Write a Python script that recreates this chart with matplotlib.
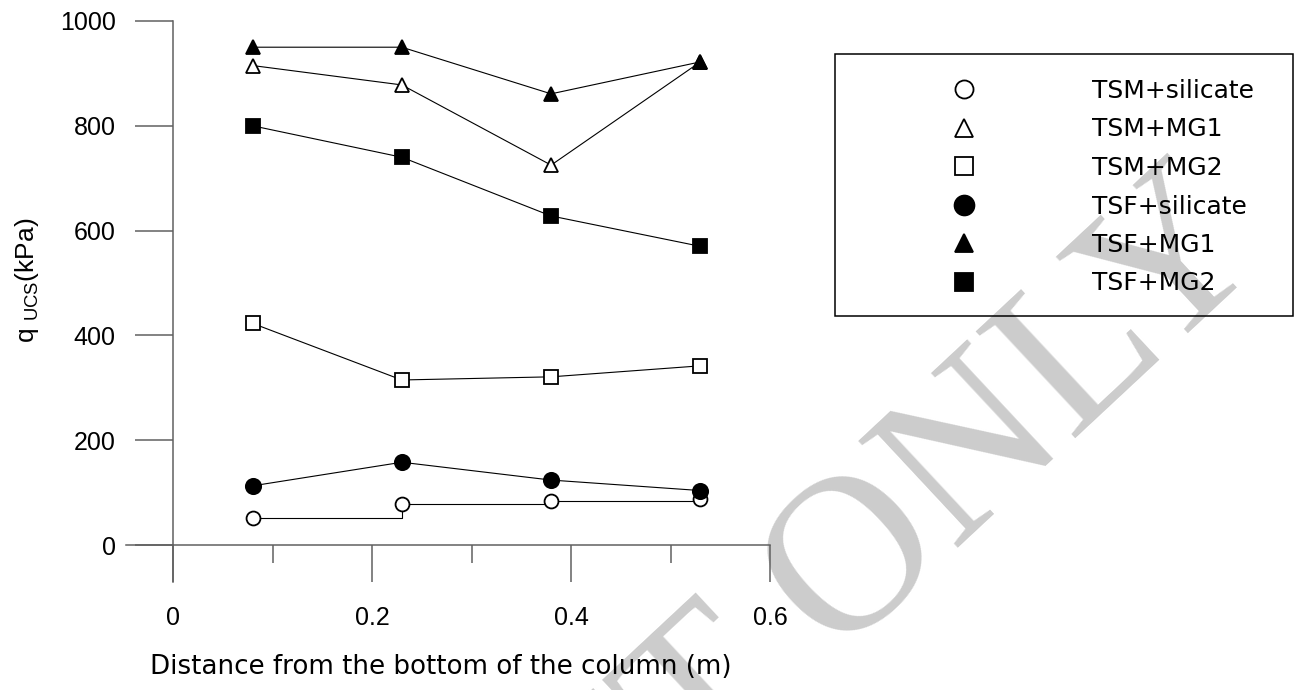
import numpy as np
import matplotlib.pyplot as plt
from matplotlib.lines import Line2D
from matplotlib.patches import Rectangle

plt.rcParams['font.family'] = ['Liberation Sans', 'DejaVu Sans']
plt.rcParams['mathtext.default'] = 'regular'

# distance from the bottom of the column (m)
distance = [0.08, 0.23, 0.38, 0.53]

# unconfined compressive strength q_UCS (kPa)
tsm_silicate = [52, 79, 85, 87]
tsm_mg1 = [915, 878, 725, 922]
tsm_mg2 = [423, 315, 321, 342]
tsf_silicate = [113, 158, 124, 104]
tsf_mg1 = [950, 950, 861, 922]
tsf_mg2 = [800, 740, 628, 570]

labels = ['TSM+silicate', 'TSM+MG1', 'TSM+MG2',
          'TSF+silicate', 'TSF+MG1', 'TSF+MG2']

W, H = 1301, 690
fig = plt.figure(figsize=(W / 100, H / 100), dpi=100)
ax = fig.add_axes([173 / W, 1 - 582 / H, (770 - 173) / W, (582 - 21) / H])
ax.patch.set_alpha(0)

grey = '#606060'
series = [
    (tsm_silicate, 'o', 'white', 10, 'steps-post'),
    (tsm_mg1, '^', 'white', 10, 'default'),
    (tsm_mg2, 's', 'white', 10, 'default'),
    (tsf_silicate, 'o', 'black', 11, 'default'),
    (tsf_mg1, '^', 'black', 10.5, 'default'),
    (tsf_mg2, 's', 'black', 10, 'default'),
]
handles = []
for (vals, mk, face, ms, ds), lab in zip(series, labels):
    ax.plot(distance, vals, color='black', lw=0.8, drawstyle=ds,
            marker=mk, ms=ms, mfc=face, mec='black', mew=1.3,
            clip_on=False, zorder=3)
    handles.append(Line2D([], [], ls='none', marker=mk, ms=ms, mfc=face,
                          mec='black', mew=1.3))

ax.set_xlim(0, 0.6)
ax.set_ylim(-70.5, 1000)
for s in ['top', 'right']:
    ax.spines[s].set_visible(False)
ax.spines['bottom'].set_position(('data', 0))
for s in ['left', 'bottom']:
    ax.spines[s].set_color(grey)
    ax.spines[s].set_linewidth(1.1)
ax.axhline(0, xmin=-(173 - 126) / 597, xmax=0, color=grey, lw=1.1,
           clip_on=False)

ax.set_xticks([0, 0.2, 0.4, 0.6])
ax.set_xticklabels(['0', '0.2', '0.4', '0.6'])
ax.set_xticks([0.1, 0.3, 0.5], minor=True)
ax.set_yticks(np.arange(0, 1001, 200))
ax.tick_params(axis='x', which='major', direction='out', length=26.6,
               width=1.1, color=grey, pad=17, labelsize=18)
ax.tick_params(axis='x', which='minor', direction='out', length=13,
               width=1.1, color=grey)
ax.tick_params(axis='y', direction='out', length=27.4, width=1.1,
               color=grey, pad=14, labelsize=18)

fig.text(150 / W, 1 - 667 / H, 'Distance from the bottom of the column (m)',
         ha='left', va='center', fontsize=18.8, family='DejaVu Sans')
fig.text(27 / W, 1 - 280 / H, 'q $_{UCS}$(kPa)', rotation=90,
         ha='center', va='center', fontsize=19)

# legend box
fig.add_artist(Rectangle((835 / W, 1 - 316 / H), (1293 - 835) / W,
                         (316 - 54) / H, transform=fig.transFigure,
                         facecolor='none', edgecolor='black', lw=1.1,
                         zorder=4))
leg = fig.legend(handles, labels, loc='upper left',
                 bbox_to_anchor=(850 / W, 1 - 79 / H), frameon=False,
                 borderpad=0, borderaxespad=0, handlelength=9.12,
                 handletextpad=0.56, labelspacing=0.58, markerscale=1.3,
                 prop={'family': 'DejaVu Sans', 'size': 18})
leg.set_zorder(5)

# watermark
fig.text(1272 / W, 1 - 255 / H, 'DRAFT ONLY', fontsize=160,
         family='Liberation Serif', color='#cccccc', rotation=43,
         ha='right', va='baseline', rotation_mode='anchor', zorder=-1)

fig.savefig('out.png', dpi=100)
